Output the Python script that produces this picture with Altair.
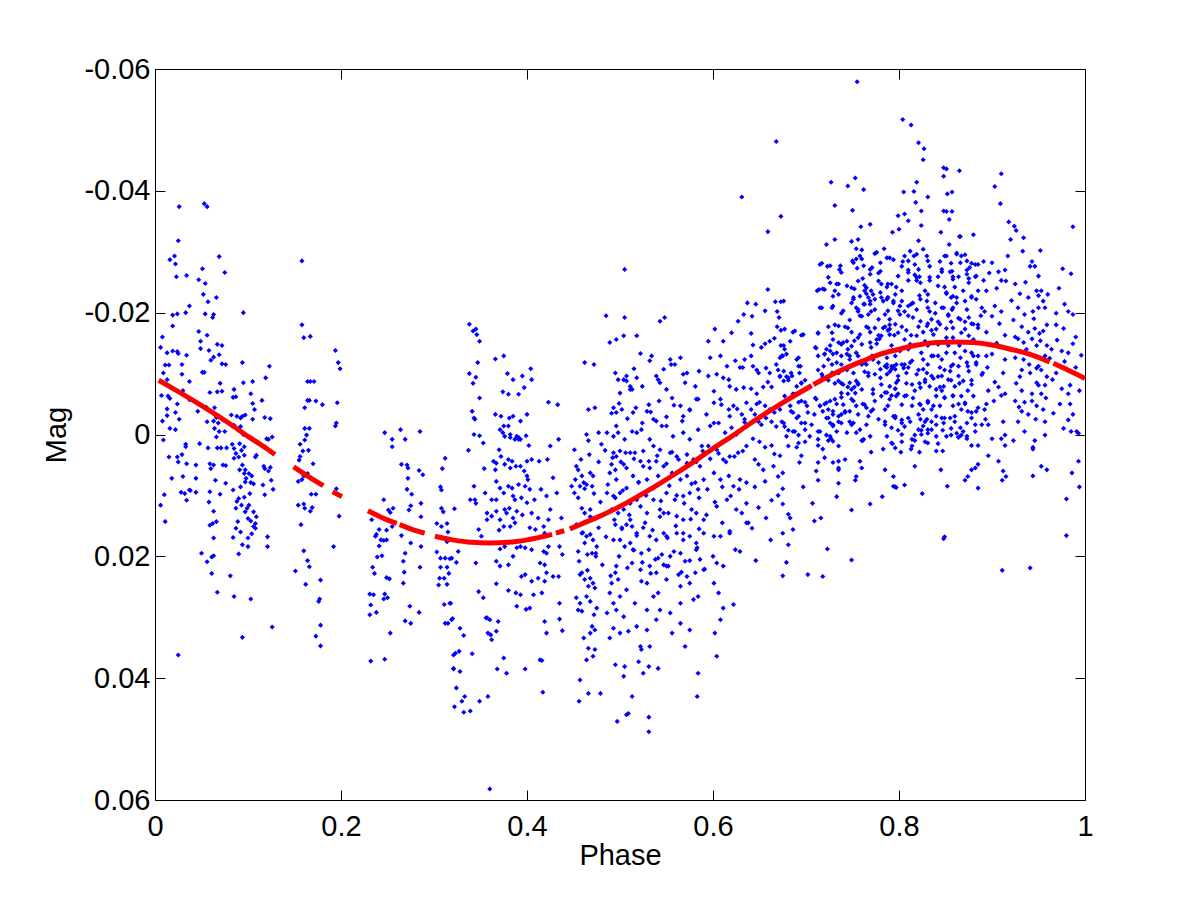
import altair as alt
import pandas as pd

# ---------------- scatter data (phase, mag), by region ----------------
grp_00_13 = [
(0.026,-0.0374),(0.053,-0.0379),(0.056,-0.0374),(0.025,-0.0318),(0.069,-0.0292),(0.016,-0.0287),(0.021,-0.0293),(0.022,-0.0280),
(0.075,-0.0266),(0.023,-0.0259),(0.034,-0.0261),(0.051,-0.0272),(0.047,-0.0254),(0.054,-0.0248),(0.052,-0.0230),(0.066,-0.0225),
(0.057,-0.0218),(0.037,-0.0211),(0.019,-0.0196),(0.024,-0.0198),(0.033,-0.0200),(0.054,-0.0198),(0.063,-0.0197),(0.062,-0.0192),
(0.095,-0.0200),(0.019,-0.0178),(0.008,-0.0160),(0.006,-0.0143),(0.047,-0.0169),(0.056,-0.0163),(0.049,-0.0153),(0.049,-0.0141),
(0.067,-0.0148),(0.072,-0.0146),(0.069,-0.0131),(0.063,-0.0127),(0.060,-0.0122),(0.058,-0.0138),(0.013,-0.0134),(0.019,-0.0137),
(0.024,-0.0136),(0.025,-0.0133),(0.034,-0.0130),(0.011,-0.0114),(0.015,-0.0114),(0.029,-0.0115),(0.009,-0.0101),(0.029,-0.0099),
(0.072,-0.0116),(0.076,-0.0115),(0.094,-0.0118),(0.123,-0.0112),(0.119,-0.0093),(0.051,-0.0102),(0.053,-0.0102),(0.013,-0.0090),
(0.037,-0.0087),(0.095,-0.0085),(0.105,-0.0087),(0.070,-0.0084),(0.067,-0.0070),(0.072,-0.0071),(0.085,-0.0074),(0.059,-0.0069),
(0.007,-0.0064),(0.014,-0.0063),(0.016,-0.0059),(0.024,-0.0050),(0.030,-0.0072),(0.103,-0.0067),(0.084,-0.0061),(0.087,-0.0062),
(0.105,-0.0051),(0.107,-0.0041),(0.115,-0.0056),(0.037,-0.0057),(0.046,-0.0038),(0.055,-0.0045),(0.064,-0.0044),(0.013,-0.0042),
(0.022,-0.0036),(0.008,-0.0022),(0.013,-0.0031),(0.026,-0.0025),(0.056,-0.0021),(0.063,-0.0022),(0.066,-0.0028),(0.068,-0.0019),
(0.082,-0.0032),(0.088,-0.0030),(0.092,-0.0027),(0.094,-0.0030),(0.097,-0.0032),(0.105,-0.0025),(0.118,-0.0028),(0.124,-0.0026),
(0.016,-0.0010),(0.022,-0.0008),(0.064,-0.0010),(0.066,0.0004),(0.069,-0.0005),(0.075,-0.0005),(0.092,-0.0013),(0.095,0.0000),
(0.091,0.0015),(0.085,-0.0015),(0.009,0.0009),(0.033,0.0016),(0.033,0.0020),(0.048,0.0015),(0.057,0.0022),(0.067,0.0022),
(0.071,0.0022),(0.077,0.0022),(0.083,0.0016),(0.085,0.0023),(0.087,0.0031),(0.085,0.0039),(0.090,0.0037),(0.093,0.0026),
(0.096,0.0020),(0.096,0.0034),(0.109,0.0034),(0.108,0.0037),(0.122,0.0008),(0.126,0.0004),(0.120,0.0007),(0.015,0.0037),
(0.024,0.0037),(0.025,0.0045),(0.029,0.0033),(0.034,0.0048),(0.044,0.0050),(0.059,0.0048),(0.063,0.0050),(0.060,0.0056),
(0.073,0.0050),(0.076,0.0051),(0.094,0.0050),(0.091,0.0058),(0.097,0.0058),(0.096,0.0064),(0.101,0.0064),(0.104,0.0068),
(0.098,0.0072),(0.117,0.0052),(0.118,0.0056),(0.122,0.0060),(0.124,0.0054),(0.018,0.0072),(0.030,0.0069),(0.044,0.0072),
(0.065,0.0075),(0.059,0.0094),(0.076,0.0080),(0.092,0.0086),(0.097,0.0078),(0.103,0.0079),(0.102,0.0097),(0.106,0.0081),
(0.116,0.0083),(0.118,0.0099),(0.125,0.0075),(0.127,0.0090),(0.028,0.0095),(0.032,0.0097),(0.037,0.0091),(0.038,0.0092),
(0.044,0.0095),(0.034,0.0108),(0.010,0.0099),(0.006,0.0116),(0.011,0.0143),(0.070,0.0098),(0.084,0.0091),(0.058,0.0111),
(0.090,0.0105),(0.088,0.0110),(0.096,0.0103),(0.087,0.0121),(0.093,0.0116),(0.099,0.0121),(0.097,0.0127),(0.101,0.0116),
(0.106,0.0127),(0.109,0.0135),(0.063,0.0126),(0.059,0.0149),(0.062,0.0146),(0.066,0.0143),(0.089,0.0143),(0.100,0.0138),
(0.103,0.0142),(0.108,0.0146),(0.108,0.0154),(0.106,0.0151),(0.087,0.0154),(0.092,0.0160),(0.084,0.0169),(0.100,0.0170),
(0.104,0.0163),(0.063,0.0170),(0.121,0.0168),(0.121,0.0184),(0.094,0.0181),(0.100,0.0184),(0.050,0.0195),(0.056,0.0209),
(0.061,0.0201),(0.063,0.0199),(0.090,0.0196),(0.061,0.0228),(0.081,0.0232),(0.067,0.0259),(0.085,0.0266),(0.103,0.0270),
(0.126,0.0316),(0.094,0.0333),(0.025,0.0362),
]

grp_15_20 = [
(0.158,-0.0285),(0.158,-0.0180),(0.160,-0.0159),(0.167,-0.0161),(0.194,-0.0138),(0.197,-0.0118),(0.199,-0.0108),(0.164,-0.0087),
(0.167,-0.0087),(0.171,-0.0087),(0.164,-0.0056),(0.166,-0.0056),(0.173,-0.0055),(0.180,-0.0049),(0.196,-0.0052),(0.161,-0.0044),
(0.195,-0.0019),(0.194,-0.0014),(0.161,-0.0010),(0.166,-0.0010),(0.163,0.0001),(0.161,0.0009),(0.156,0.0016),(0.156,0.0036),
(0.155,0.0042),(0.165,0.0026),(0.159,0.0027),(0.170,0.0048),(0.154,0.0077),(0.158,0.0074),(0.160,0.0068),(0.164,0.0064),
(0.168,0.0098),(0.173,0.0098),(0.195,0.0089),(0.154,0.0116),(0.160,0.0114),(0.161,0.0121),(0.167,0.0126),(0.169,0.0120),
(0.157,0.0148),(0.198,0.0134),(0.192,0.0184),(0.160,0.0191),(0.164,0.0207),(0.166,0.0217),(0.151,0.0224),(0.162,0.0246),
(0.178,0.0239),(0.177,0.0270),(0.176,0.0274),(0.178,0.0313),(0.173,0.0331),(0.178,0.0347),
]

grp_23_29 = [
(0.247,-0.0003),(0.264,-0.0008),(0.269,0.0008),(0.255,0.0008),(0.255,0.0020),(0.285,-0.0005),(0.265,0.0049),(0.271,0.0050),
(0.272,0.0055),(0.272,0.0072),(0.276,0.0098),(0.273,0.0124),(0.275,0.0117),(0.284,0.0059),(0.288,0.0066),(0.286,0.0113),
(0.286,0.0135),(0.286,0.0184),(0.285,0.0218),(0.271,0.0090),(0.246,0.0107),(0.251,0.0124),(0.256,0.0121),(0.253,0.0128),
(0.233,0.0140),(0.238,0.0164),(0.237,0.0167),(0.241,0.0156),(0.243,0.0173),(0.249,0.0157),(0.246,0.0174),(0.249,0.0173),
(0.255,0.0151),(0.265,0.0166),(0.275,0.0178),(0.269,0.0195),(0.267,0.0208),(0.241,0.0183),(0.239,0.0201),(0.244,0.0199),
(0.234,0.0218),(0.236,0.0228),(0.249,0.0235),(0.252,0.0237),(0.268,0.0226),(0.267,0.0244),(0.247,0.0262),(0.246,0.0270),
(0.250,0.0268),(0.231,0.0262),(0.235,0.0263),(0.232,0.0280),(0.238,0.0292),(0.231,0.0296),(0.274,0.0282),(0.284,0.0292),
(0.269,0.0306),(0.275,0.0310),(0.253,0.0326),(0.232,0.0372),(0.247,0.0369),
]

grp_30_32 = [
(0.312,0.0039),(0.309,0.0056),(0.307,0.0086),(0.308,0.0091),(0.308,0.0121),(0.310,0.0127),(0.303,0.0146),(0.308,0.0151),
(0.314,0.0146),(0.315,0.0160),(0.314,0.0176),(0.303,0.0193),(0.307,0.0203),(0.312,0.0203),(0.317,0.0204),(0.307,0.0218),
(0.314,0.0218),(0.306,0.0236),(0.311,0.0236),(0.316,0.0228),(0.305,0.0247),(0.314,0.0246),(0.311,0.0279),(0.317,0.0277),
(0.319,0.0304),(0.312,0.0310),(0.315,0.0310),(0.321,0.0362),(0.321,0.0385),
]

grp_32_45 = [
(0.322,0.0122),(0.319,0.0203),(0.324,0.0210),(0.318,0.0277),(0.320,0.0302),(0.328,0.0318),(0.332,0.0330),(0.323,0.0359),
(0.327,0.0356),(0.321,0.0384),(0.328,0.0389),(0.324,0.0416),(0.333,0.0430),(0.330,0.0438),(0.322,0.0447),(0.332,0.0456),
(0.339,0.0454),(0.326,0.0192),(0.338,-0.0181),(0.342,-0.0170),(0.345,-0.0173),(0.346,-0.0164),(0.349,-0.0153),(0.347,-0.0118),
(0.338,-0.0100),(0.342,-0.0084),(0.345,-0.0094),(0.349,-0.0060),(0.341,-0.0038),(0.343,-0.0027),(0.344,-0.0025),(0.343,0.0000),
(0.349,0.0002),(0.353,0.0014),(0.337,0.0026),(0.354,0.0056),(0.343,0.0085),(0.339,0.0107),(0.344,0.0107),(0.345,0.0113),
(0.355,0.0096),(0.348,0.0156),(0.357,0.0140),(0.351,0.0167),(0.345,0.0211),(0.348,0.0258),(0.353,0.0268),(0.356,0.0301),
(0.360,0.0304),(0.358,0.0326),(0.362,0.0337),(0.341,0.0360),(0.349,0.0438),(0.358,0.0430),(0.360,0.0582),
(0.366,-0.0124),(0.375,-0.0129),(0.379,-0.0100),(0.385,-0.0090),(0.374,-0.0070),(0.380,-0.0066),(0.391,-0.0066),
(0.366,-0.0033),(0.372,-0.0030),(0.375,-0.0014),(0.381,-0.0027),(0.385,-0.0030),(0.371,-0.0008),(0.380,-0.0014),(0.382,0.0000),
(0.374,-0.0003),(0.376,0.0003),(0.382,0.0005),(0.387,0.0008),(0.389,0.0003),(0.391,0.0008),(0.370,0.0025),(0.372,0.0036),
(0.364,0.0044),(0.367,0.0047),(0.366,0.0058),(0.376,0.0049),(0.380,0.0041),(0.384,0.0044),(0.382,0.0055),(0.388,0.0052),
(0.367,0.0077),(0.371,0.0088),(0.375,0.0096),(0.362,0.0107),(0.367,0.0107),(0.380,0.0085),(0.384,0.0088),(0.385,0.0101),
(0.387,0.0107),(0.357,0.0129),(0.362,0.0134),(0.367,0.0126),(0.371,0.0140),(0.376,0.0123),(0.378,0.0129),(0.381,0.0121),
(0.385,0.0137),(0.389,0.0126),(0.375,0.0151),(0.370,0.0157),(0.382,0.0151),(0.387,0.0145),(0.371,0.0188),(0.376,0.0184),
(0.385,0.0200),(0.389,0.0186),(0.367,0.0208),(0.371,0.0216),(0.380,0.0214),(0.367,0.0245),(0.380,0.0256),(0.388,0.0260),
(0.389,0.0282),(0.393,0.0263),(0.399,0.0287),(0.357,0.0301),(0.369,0.0307),(0.367,0.0323),(0.361,0.0329),(0.375,0.0367),
(0.368,0.0385),(0.378,0.0392),(0.398,0.0385),
(0.395,-0.0096),(0.404,-0.0108),(0.405,-0.0090),(0.397,-0.0077),(0.400,-0.0033),(0.393,-0.0022),(0.399,0.0002),(0.391,0.0005),
(0.393,0.0008),(0.402,0.0018),(0.400,0.0044),(0.405,0.0041),(0.393,0.0052),(0.397,0.0060),(0.400,0.0068),(0.401,0.0074),
(0.413,0.0044),(0.422,0.0041),(0.425,0.0019),(0.434,0.0008),(0.391,0.0082),(0.398,0.0085),(0.403,0.0090),(0.394,0.0104),
(0.400,0.0112),(0.408,0.0107),(0.415,0.0090),(0.421,0.0101),(0.425,0.0123),(0.395,0.0132),(0.405,0.0129),(0.412,0.0137),
(0.403,0.0153),(0.409,0.0156),(0.418,0.0151),(0.419,0.0162),(0.423,0.0140),(0.393,0.0184),(0.398,0.0186),(0.405,0.0189),
(0.418,0.0192),(0.421,0.0195),(0.423,0.0184),(0.414,0.0211),(0.419,0.0214),(0.421,0.0227),(0.419,0.0241),(0.412,0.0236),
(0.405,0.0241),(0.394,0.0233),(0.398,0.0230),(0.407,0.0263),(0.416,0.0260),(0.403,0.0285),(0.414,0.0370),(0.416,0.0371),
(0.417,0.0423),(0.419,0.0307),(0.421,0.0326),(0.423,-0.0053),(0.433,-0.0049),
(0.428,0.0071),(0.432,0.0096),(0.437,0.0137),(0.435,0.0184),(0.438,0.0197),(0.428,0.0233),(0.434,0.0233),(0.435,0.0277),
(0.438,0.0322),(0.435,0.0303),(0.448,0.0085),(0.451,0.0096),(0.452,0.0074),(0.453,0.0052),(0.451,0.0025),(0.462,-0.0118),
(0.472,-0.0115),(0.466,-0.0041),(0.473,-0.0044),
]

grp_45_64 = [
(0.455,0.0058),(0.459,0.0068),(0.461,0.0079),(0.457,0.0085),(0.464,0.0082),(0.468,0.0063),(0.471,0.0068),(0.470,0.0085),
(0.459,0.0121),(0.462,0.0129),(0.468,0.0123),(0.459,0.0162),(0.464,0.0167),(0.468,0.0164),(0.471,0.0173),(0.462,0.0178),
(0.455,0.0192),(0.465,0.0197),(0.470,0.0195),(0.475,0.0184),(0.474,0.0200),(0.459,0.0227),(0.457,0.0230),(0.462,0.0238),
(0.468,0.0236),(0.471,0.0244),(0.466,0.0249),(0.473,0.0252),(0.453,0.0268),(0.457,0.0277),(0.455,0.0288),(0.459,0.0290),
(0.464,0.0266),(0.468,0.0274),(0.475,0.0285),(0.472,0.0296),(0.470,0.0315),(0.473,0.0321),(0.468,0.0326),(0.461,0.0334),
(0.466,0.0351),(0.473,0.0353),(0.471,0.0364),(0.464,0.0370),(0.457,0.0403),(0.456,0.0438),(0.466,0.0425),(0.479,0.0425),
(0.477,-0.0003),(0.480,0.0016),(0.464,0.0000),(0.466,0.0010),
(0.489,-0.0151),(0.496,-0.0156),(0.504,-0.0162),(0.505,-0.0192),(0.495,-0.0101),(0.498,-0.0090),(0.504,-0.0090),(0.507,-0.0096),
(0.511,-0.0074),(0.500,-0.0068),(0.493,-0.0044),(0.496,-0.0036),(0.502,-0.0041),(0.486,-0.0003),(0.493,0.0003),(0.496,-0.0014),
(0.498,-0.0003),(0.505,0.0008),(0.493,0.0030),(0.496,0.0036),(0.500,0.0027),(0.491,0.0049),(0.495,0.0058),(0.504,0.0049),
(0.507,0.0055),(0.511,0.0030),(0.489,0.0063),(0.496,0.0074),(0.486,0.0096),(0.493,0.0101),(0.500,0.0096),(0.507,0.0088),
(0.491,0.0123),(0.498,0.0129),(0.504,0.0123),(0.495,0.0148),(0.502,0.0153),(0.507,0.0148),(0.511,0.0140),(0.493,0.0173),
(0.500,0.0173),(0.505,0.0184),(0.511,0.0178),(0.496,0.0216),(0.495,0.0227),(0.491,0.0244),(0.498,0.0238),(0.489,0.0260),
(0.500,0.0266),(0.507,0.0255),(0.493,0.0277),(0.486,0.0293),(0.496,0.0288),(0.504,0.0299),(0.493,0.0318),(0.489,0.0334),
(0.500,0.0326),(0.509,0.0323),(0.495,0.0378),(0.505,0.0381),(0.497,0.0471),(0.507,0.0460),(0.509,0.0458),(0.504,0.0397),
(0.505,-0.0271),(0.485,-0.0195),
(0.518,-0.0162),(0.522,-0.0133),(0.534,-0.0129),(0.532,-0.0121),(0.543,-0.0186),(0.548,-0.0192),(0.541,-0.0090),(0.543,-0.0085),
(0.518,-0.0093),(0.513,-0.0074),(0.511,-0.0079),(0.531,-0.0049),(0.529,-0.0038),(0.536,-0.0025),(0.539,-0.0022),(0.545,-0.0014),
(0.514,-0.0036),(0.513,-0.0005),(0.518,-0.0003),(0.523,-0.0008),(0.532,0.0008),(0.536,0.0019),(0.543,0.0025),(0.516,0.0030),
(0.522,0.0044),(0.525,0.0052),(0.532,0.0055),(0.539,0.0044),(0.547,0.0052),(0.514,0.0068),(0.520,0.0079),(0.529,0.0074),
(0.541,0.0068),(0.518,0.0107),(0.522,0.0118),(0.529,0.0129),(0.536,0.0107),(0.543,0.0123),(0.547,0.0129),(0.513,0.0151),
(0.518,0.0162),(0.525,0.0153),(0.532,0.0167),(0.539,0.0173),(0.547,0.0162),(0.514,0.0189),(0.523,0.0195),(0.531,0.0189),
(0.538,0.0205),(0.545,0.0197),(0.513,0.0211),(0.522,0.0222),(0.532,0.0216),(0.539,0.0227),(0.547,0.0214),(0.523,0.0241),
(0.529,0.0244),(0.536,0.0266),(0.541,0.0260),(0.516,0.0277),(0.529,0.0288),(0.543,0.0288),(0.518,0.0315),(0.529,0.0321),
(0.539,0.0304),(0.522,0.0348),(0.523,0.0353),(0.532,0.0348),(0.520,0.0373),(0.525,0.0392),(0.531,0.0381),(0.541,0.0384),
(0.513,0.0430),(0.531,0.0464),(0.531,0.0488),
(0.547,-0.0107),(0.554,-0.0123),(0.559,-0.0115),(0.565,-0.0126),(0.568,-0.0099),(0.572,-0.0101),(0.581,-0.0079),(0.550,-0.0074),
(0.556,-0.0060),(0.565,-0.0047),(0.568,-0.0030),(0.575,-0.0041),(0.582,-0.0058),(0.550,-0.0014),(0.557,0.0003),(0.568,-0.0003),
(0.575,0.0008),(0.584,-0.0008),(0.588,0.0019),(0.554,0.0030),(0.561,0.0036),(0.572,0.0047),(0.579,0.0041),(0.586,0.0052),
(0.556,0.0063),(0.565,0.0074),(0.572,0.0068),(0.581,0.0079),(0.590,0.0074),(0.550,0.0096),(0.559,0.0107),(0.568,0.0101),
(0.575,0.0096),(0.584,0.0090),(0.552,0.0129),(0.561,0.0134),(0.568,0.0140),(0.577,0.0123),(0.582,0.0129),(0.590,0.0140),
(0.550,0.0167),(0.561,0.0162),(0.568,0.0173),(0.575,0.0167),(0.582,0.0178),(0.590,0.0162),(0.554,0.0200),(0.565,0.0195),
(0.570,0.0208),(0.582,0.0189),(0.586,0.0205),(0.552,0.0216),(0.563,0.0230),(0.572,0.0233),(0.581,0.0227),(0.590,0.0222),
(0.550,0.0238),(0.565,0.0249),(0.575,0.0244),(0.584,0.0266),(0.565,0.0277),(0.579,0.0271),(0.554,0.0293),(0.565,0.0310),
(0.575,0.0321),(0.556,0.0326),(0.570,0.0348),(0.584,0.0392),(0.583,0.0430),
(0.595,-0.0153),(0.602,-0.0173),(0.611,-0.0153),(0.620,-0.0167),(0.627,-0.0186),(0.633,-0.0197),(0.637,-0.0216),(0.597,-0.0126),
(0.608,-0.0129),(0.615,-0.0112),(0.624,-0.0121),(0.629,-0.0110),(0.634,-0.0123),(0.595,-0.0096),(0.604,-0.0099),(0.611,-0.0093),
(0.618,-0.0079),(0.625,-0.0074),(0.633,-0.0077),(0.601,-0.0052),(0.608,-0.0058),(0.617,-0.0041),(0.622,-0.0047),(0.631,-0.0033),
(0.636,-0.0052),(0.597,-0.0014),(0.606,-0.0019),(0.613,-0.0003),(0.620,-0.0011),(0.625,0.0000),(0.634,-0.0025),(0.595,0.0019),
(0.604,0.0025),(0.611,0.0041),(0.618,0.0036),(0.627,0.0030),(0.636,0.0019),(0.601,0.0063),(0.608,0.0074),(0.617,0.0068),
(0.622,0.0085),(0.629,0.0074),(0.636,0.0079),(0.604,0.0118),(0.615,0.0107),(0.625,0.0123),(0.631,0.0129),(0.638,0.0145),
(0.608,0.0167),(0.618,0.0162),(0.624,0.0189),(0.629,0.0192),(0.604,0.0211),(0.611,0.0216),(0.601,0.0244),(0.606,0.0260),
(0.611,0.0285),(0.622,0.0279),(0.608,0.0304),(0.602,0.0326),(0.604,0.0364),
]

# second, denser reading of the crowded block around phase 0.45-0.64
grp_45_64_more = [
(0.458,0.0041),(0.467,0.0033),(0.477,0.0045),(0.484,0.0026),(0.492,0.0038),(0.501,0.0045),(0.506,0.0030),(0.515,0.0040),
(0.525,0.0027),(0.531,0.0044),(0.540,0.0035),(0.550,0.0048),(0.556,0.0029),(0.563,0.0041),(0.572,0.0033),(0.582,0.0045),
(0.589,0.0027),(0.597,0.0040),(0.606,0.0031),(0.614,0.0045),(0.623,0.0036),(0.632,0.0027),
(0.455,0.0104),(0.462,0.0089),(0.472,0.0097),(0.479,0.0111),(0.487,0.0082),(0.495,0.0104),(0.503,0.0092),(0.511,0.0113),
(0.520,0.0078),(0.528,0.0100),(0.536,0.0088),(0.544,0.0109),(0.553,0.0084),(0.561,0.0100),(0.569,0.0113),(0.577,0.0081),
(0.585,0.0104),(0.594,0.0090),(0.602,0.0111),(0.610,0.0086),(0.619,0.0101),(0.628,0.0090),(0.636,0.0113),
(0.453,0.0148),(0.460,0.0161),(0.468,0.0135),(0.477,0.0153),(0.485,0.0168),(0.494,0.0140),(0.502,0.0155),(0.510,0.0132),
(0.518,0.0166),(0.527,0.0145),(0.535,0.0157),(0.543,0.0135),(0.551,0.0170),(0.560,0.0150),(0.568,0.0162),(0.576,0.0139),
(0.585,0.0155),(0.593,0.0132),(0.601,0.0167),(0.610,0.0145),(0.618,0.0159),
(0.456,0.0208),(0.465,0.0223),(0.474,0.0195),(0.481,0.0214),(0.490,0.0232),(0.499,0.0200),(0.508,0.0219),(0.515,0.0190),
(0.524,0.0210),(0.533,0.0228),(0.541,0.0203),(0.550,0.0216),(0.558,0.0192),(0.566,0.0226),(0.575,0.0207),(0.583,0.0186),
(0.591,0.0221),(0.600,0.0200),
(0.491,-0.0035),(0.499,-0.0051),(0.508,-0.0026),(0.517,-0.0044),(0.524,-0.0019),(0.533,-0.0037),(0.542,-0.0055),(0.550,-0.0029),
(0.558,-0.0048),(0.567,-0.0022),(0.575,-0.0040),(0.584,-0.0058),(0.593,-0.0033),(0.601,-0.0019),(0.609,-0.0049),(0.618,-0.0030),
(0.626,-0.0042),(0.634,-0.0020),(0.507,-0.0088),(0.515,-0.0108),(0.524,-0.0079),(0.539,-0.0096),(0.555,-0.0115),(0.570,-0.0085),
(0.585,-0.0104),(0.601,-0.0071),(0.617,-0.0090),(0.632,-0.0110),
]

grp_64_80 = [
(0.631,-0.0390),(0.668,-0.0481),(0.659,-0.0333),(0.673,-0.0358),(0.659,-0.0238),(0.667,-0.0218),(0.673,-0.0218),(0.646,-0.0214),
(0.656,-0.0203),(0.669,-0.0202),(0.671,-0.0192),(0.642,-0.0194),(0.641,-0.0166),(0.669,-0.0177),(0.673,-0.0171),(0.666,-0.0158),
(0.643,-0.0147),(0.652,-0.0143),(0.656,-0.0149),(0.661,-0.0153),(0.673,-0.0146),(0.676,-0.0146),(0.675,-0.0129),(0.672,-0.0126),
(0.641,-0.0129),(0.643,-0.0112),(0.647,-0.0106),(0.649,-0.0101),(0.657,-0.0109),(0.661,-0.0101),(0.668,-0.0115),(0.670,-0.0106),
(0.672,-0.0095),(0.679,-0.0095),(0.681,-0.0089),(0.641,-0.0075),(0.647,-0.0067),(0.654,-0.0078),(0.659,-0.0086),(0.663,-0.0078),
(0.641,-0.0041),(0.647,-0.0050),(0.650,-0.0053),(0.656,-0.0047),(0.661,-0.0041),(0.666,-0.0036),(0.672,-0.0041),(0.645,-0.0033),
(0.649,-0.0021),(0.652,-0.0016),(0.657,-0.0027),(0.663,-0.0021),(0.668,-0.0013),(0.674,-0.0021),(0.677,-0.0013),(0.681,-0.0007),
(0.643,0.0007),(0.650,0.0012),(0.656,0.0021),(0.663,0.0018),(0.666,0.0032),(0.672,0.0035),(0.645,0.0041),(0.649,0.0049),
(0.654,0.0058),(0.665,0.0052),(0.670,0.0069),(0.675,0.0063),(0.645,0.0086),(0.656,0.0077),(0.663,0.0108),(0.670,0.0100),
(0.675,0.0089),(0.649,0.0120),(0.657,0.0137),(0.675,0.0114),(0.681,0.0131),(0.683,0.0137),(0.662,0.0173),(0.675,0.0162),
(0.681,0.0181),(0.686,0.0156),(0.646,0.0207),(0.679,0.0210),(0.675,0.0232),(0.702,0.0230),(0.718,0.0233),(0.642,0.0154),
(0.636,0.0145),
(0.695,-0.0163),(0.686,-0.0168),(0.715,-0.0279),(0.723,-0.0276),(0.722,-0.0312),(0.731,-0.0320),(0.727,-0.0414),(0.731,-0.0376),
(0.712,-0.0236),(0.718,-0.0239),(0.715,-0.0208),(0.728,-0.0208),(0.731,-0.0236),(0.733,-0.0247),(0.713,-0.0166),(0.724,-0.0177),
(0.731,-0.0180),(0.726,-0.0146),(0.735,-0.0151),(0.710,-0.0143),(0.720,-0.0132),(0.724,-0.0123),(0.729,-0.0132),(0.733,-0.0118),
(0.690,-0.0123),(0.692,-0.0112),(0.684,-0.0101),(0.693,-0.0101),(0.695,-0.0084),(0.699,-0.0089),(0.713,-0.0106),(0.718,-0.0095),
(0.724,-0.0089),(0.731,-0.0084),(0.735,-0.0101),(0.686,-0.0067),(0.692,-0.0053),(0.699,-0.0053),(0.711,-0.0058),(0.715,-0.0047),
(0.720,-0.0050),(0.726,-0.0055),(0.733,-0.0050),(0.684,-0.0038),(0.690,-0.0027),(0.699,-0.0019),(0.709,-0.0033),(0.718,-0.0038),
(0.724,-0.0027),(0.729,-0.0033),(0.735,-0.0021),(0.686,-0.0005),(0.692,0.0001),(0.699,0.0012),(0.713,-0.0005),(0.722,0.0001),
(0.729,-0.0016),(0.733,-0.0005),(0.690,0.0021),(0.695,0.0035),(0.713,0.0018),(0.718,0.0024),(0.724,0.0010),(0.727,0.0007),
(0.693,0.0046),(0.713,0.0046),(0.720,0.0038),(0.729,0.0046),(0.735,0.0044),(0.711,0.0060),(0.713,0.0075),(0.735,0.0058),
(0.735,0.0080),(0.733,0.0102),(0.697,0.0086),(0.707,0.0113),(0.709,0.0142),(0.716,0.0137),(0.723,0.0188),
(0.755,-0.0579),(0.745,-0.0408),(0.753,-0.0421),(0.762,-0.0402),(0.750,-0.0368),(0.759,-0.0341),(0.769,-0.0345),(0.749,-0.0317),
(0.756,-0.0320),(0.754,-0.0305),(0.760,-0.0303),(0.751,-0.0282),(0.760,-0.0288),(0.736,-0.0271),(0.755,-0.0273),(0.761,-0.0256),
(0.769,-0.0271),(0.774,-0.0297),(0.784,-0.0305),(0.752,-0.0239),(0.751,-0.0225),(0.763,-0.0245),(0.765,-0.0231),(0.770,-0.0236),
(0.778,-0.0265),(0.781,-0.0247),(0.787,-0.0242),(0.754,-0.0208),(0.756,-0.0202),(0.763,-0.0214),(0.769,-0.0219),(0.774,-0.0222),
(0.781,-0.0225),(0.787,-0.0222),(0.738,-0.0199),(0.747,-0.0188),(0.760,-0.0194),(0.770,-0.0202),(0.785,-0.0197),(0.742,-0.0177),
(0.749,-0.0168),(0.765,-0.0177),(0.769,-0.0168),(0.778,-0.0163),(0.785,-0.0177),(0.788,-0.0171),(0.740,-0.0151),(0.752,-0.0154),
(0.770,-0.0143),(0.776,-0.0149),(0.779,-0.0157),(0.745,-0.0140),(0.747,-0.0129),(0.756,-0.0129),(0.763,-0.0118),(0.772,-0.0123),
(0.744,-0.0106),(0.751,-0.0101),(0.763,-0.0103),(0.767,-0.0101),(0.785,-0.0112),(0.790,-0.0103),(0.738,-0.0084),(0.745,-0.0078),
(0.752,-0.0078),(0.756,-0.0084),(0.772,-0.0067),(0.785,-0.0069),(0.792,-0.0064),(0.796,-0.0075),(0.738,-0.0061),(0.745,-0.0067),
(0.751,-0.0055),(0.761,-0.0050),(0.738,-0.0033),(0.742,-0.0038),(0.747,-0.0021),(0.751,-0.0019),(0.760,0.0010),(0.761,0.0010),
(0.770,-0.0038),(0.785,-0.0041),(0.785,-0.0021),(0.796,-0.0027),(0.742,0.0041),(0.735,0.0055),(0.758,0.0044),(0.760,0.0055),
(0.754,0.0069),(0.753,0.0075),(0.770,0.0029),(0.783,0.0024),(0.769,0.0114),(0.749,0.0124),(0.782,0.0102),(0.785,0.0058),
(0.794,0.0069),(0.796,0.0086),(0.749,0.0206),
]

# denser reading of the crowded block around phase 0.67-0.89, mag -0.030..0.002
grp_67_89 = [
(0.758,-0.0293),(0.776,-0.0299),(0.762,-0.0277),(0.771,-0.0274),(0.780,-0.0282),(0.790,-0.0290),(0.806,-0.0293),(0.810,-0.0285),
(0.817,-0.0279),(0.819,-0.0296),(0.831,-0.0285),(0.830,-0.0293),(0.851,-0.0293),(0.862,-0.0296),(0.867,-0.0293),(0.866,-0.0282),
(0.873,-0.0285),(0.846,-0.0271),(0.885,-0.0279),(0.876,-0.0274),(0.717,-0.0281),(0.726,-0.0277),(0.737,-0.0277),(0.750,-0.0285),
(0.754,-0.0288),
(0.724,-0.0258),(0.738,-0.0266),(0.749,-0.0241),(0.756,-0.0252),(0.769,-0.0263),(0.780,-0.0268),(0.788,-0.0247),(0.799,-0.0260),
(0.810,-0.0266),(0.821,-0.0271),(0.819,-0.0258),(0.823,-0.0249),(0.833,-0.0258),(0.842,-0.0244),(0.857,-0.0268),(0.858,-0.0255),
(0.873,-0.0263),(0.875,-0.0249),(0.883,-0.0260),(0.714,-0.0238),(0.726,-0.0249),(0.735,-0.0247),(0.744,-0.0244),(0.765,-0.0241),
(0.778,-0.0252),
(0.720,-0.0238),(0.729,-0.0227),(0.735,-0.0230),(0.751,-0.0222),(0.758,-0.0227),(0.763,-0.0236),(0.767,-0.0225),(0.772,-0.0230),
(0.780,-0.0233),(0.788,-0.0225),(0.796,-0.0230),(0.794,-0.0216),(0.803,-0.0219),(0.815,-0.0216),(0.823,-0.0222),(0.831,-0.0230),
(0.839,-0.0216),(0.851,-0.0233),(0.858,-0.0227),(0.862,-0.0216),(0.869,-0.0236),(0.878,-0.0227),(0.883,-0.0222),(0.676,-0.0219),
(0.717,-0.0208),(0.729,-0.0211),(0.740,-0.0203),(0.749,-0.0216),(0.756,-0.0205),(0.762,-0.0214),(0.769,-0.0214),(0.774,-0.0205),
(0.783,-0.0219),(0.788,-0.0203),(0.799,-0.0203),(0.810,-0.0211),(0.819,-0.0205),(0.831,-0.0208),(0.848,-0.0208),(0.857,-0.0205),
(0.873,-0.0205),
(0.758,-0.0195),(0.767,-0.0197),(0.778,-0.0189),(0.790,-0.0189),(0.796,-0.0181),(0.790,-0.0173),(0.783,-0.0175),(0.801,-0.0197),
(0.810,-0.0195),(0.823,-0.0186),(0.835,-0.0189),(0.844,-0.0181),(0.853,-0.0195),(0.866,-0.0189),(0.875,-0.0192),(0.880,-0.0181),
(0.871,-0.0173),(0.677,-0.0173),(0.688,-0.0170),(0.697,-0.0164),(0.728,-0.0167),(0.735,-0.0178),(0.745,-0.0175),(0.758,-0.0164),
(0.767,-0.0175),(0.774,-0.0175),(0.815,-0.0192),(0.830,-0.0178),(0.840,-0.0173),(0.858,-0.0175),(0.885,-0.0175),
(0.713,-0.0167),(0.729,-0.0156),(0.744,-0.0153),(0.749,-0.0145),(0.760,-0.0148),(0.769,-0.0151),(0.776,-0.0156),(0.781,-0.0162),
(0.790,-0.0164),(0.799,-0.0167),(0.806,-0.0156),(0.812,-0.0148),(0.819,-0.0162),(0.828,-0.0153),(0.837,-0.0164),(0.842,-0.0148),
(0.851,-0.0159),(0.858,-0.0159),(0.867,-0.0167),(0.875,-0.0162),(0.880,-0.0156),(0.683,-0.0153),(0.677,-0.0140),(0.711,-0.0142),
(0.722,-0.0140),(0.738,-0.0148),(0.756,-0.0159),
(0.674,-0.0129),(0.679,-0.0132),(0.692,-0.0126),(0.713,-0.0129),(0.720,-0.0132),(0.726,-0.0137),(0.733,-0.0134),(0.738,-0.0129),
(0.744,-0.0132),(0.754,-0.0134),(0.771,-0.0129),(0.778,-0.0118),(0.787,-0.0126),(0.792,-0.0112),(0.797,-0.0115),(0.806,-0.0115),
(0.814,-0.0121),(0.826,-0.0123),(0.835,-0.0129),(0.842,-0.0129),(0.851,-0.0134),(0.858,-0.0115),(0.866,-0.0126),(0.873,-0.0118),
(0.880,-0.0129),(0.694,-0.0112),(0.719,-0.0112),(0.728,-0.0115),(0.738,-0.0115),(0.747,-0.0123),(0.760,-0.0115),(0.765,-0.0115),
(0.780,-0.0107),(0.787,-0.0110),(0.796,-0.0107),(0.803,-0.0115),(0.810,-0.0110),(0.826,-0.0107),(0.831,-0.0115),(0.844,-0.0110),
(0.855,-0.0104),(0.883,-0.0115),
(0.676,-0.0104),(0.672,-0.0096),(0.681,-0.0093),(0.685,-0.0096),(0.676,-0.0088),(0.690,-0.0079),(0.695,-0.0085),(0.704,-0.0079),
(0.717,-0.0099),(0.728,-0.0101),(0.735,-0.0088),(0.740,-0.0082),(0.747,-0.0085),(0.754,-0.0088),(0.756,-0.0082),(0.767,-0.0096),
(0.774,-0.0099),(0.780,-0.0093),(0.787,-0.0099),(0.792,-0.0107),(0.799,-0.0096),(0.808,-0.0101),(0.819,-0.0099),(0.828,-0.0090),
(0.835,-0.0096),(0.846,-0.0096),(0.853,-0.0090),(0.864,-0.0096),(0.869,-0.0088),(0.875,-0.0104),(0.738,-0.0068),(0.749,-0.0074),
(0.760,-0.0074),(0.772,-0.0074),(0.781,-0.0082),(0.790,-0.0079),(0.797,-0.0085),(0.814,-0.0082),(0.823,-0.0077),(0.833,-0.0079),
(0.840,-0.0074),(0.848,-0.0079),(0.860,-0.0079),(0.878,-0.0082),
(0.677,-0.0063),(0.688,-0.0066),(0.695,-0.0055),(0.710,-0.0060),(0.715,-0.0047),(0.722,-0.0052),(0.731,-0.0058),(0.740,-0.0049),
(0.749,-0.0058),(0.753,-0.0068),(0.763,-0.0049),(0.774,-0.0055),(0.781,-0.0063),(0.790,-0.0058),(0.797,-0.0063),(0.806,-0.0063),
(0.815,-0.0060),(0.823,-0.0049),(0.831,-0.0052),(0.840,-0.0063),(0.849,-0.0060),(0.858,-0.0063),(0.867,-0.0063),(0.880,-0.0063),
(0.683,-0.0047),(0.701,-0.0047),(0.724,-0.0041),(0.729,-0.0038),(0.742,-0.0036),(0.754,-0.0047),(0.765,-0.0044),(0.772,-0.0041),
(0.788,-0.0047),(0.803,-0.0049),(0.814,-0.0047),(0.826,-0.0041),(0.835,-0.0041),(0.844,-0.0047),(0.858,-0.0047),(0.867,-0.0041),
(0.871,-0.0052),
(0.686,-0.0036),(0.692,-0.0030),(0.702,-0.0036),(0.722,-0.0027),(0.726,-0.0019),(0.735,-0.0030),(0.747,-0.0038),(0.756,-0.0033),
(0.767,-0.0030),(0.778,-0.0025),(0.794,-0.0030),(0.803,-0.0019),(0.810,-0.0027),(0.823,-0.0025),(0.830,-0.0025),(0.840,-0.0030),
(0.849,-0.0027),(0.860,-0.0030),(0.873,-0.0019),(0.676,-0.0019),(0.695,-0.0019),(0.706,-0.0016),(0.715,-0.0005),(0.729,-0.0014),
(0.738,-0.0019),(0.749,-0.0016),(0.758,-0.0008),(0.765,-0.0016),(0.785,-0.0016),(0.792,-0.0011),(0.821,-0.0008),(0.826,-0.0014),
(0.835,-0.0008),(0.848,-0.0019),(0.866,-0.0011),(0.882,-0.0016),
(0.679,0.0003),(0.688,-0.0005),(0.699,-0.0008),(0.681,0.0019),(0.692,0.0014),(0.704,0.0003),(0.713,0.0008),(0.726,0.0003),
(0.729,0.0011),(0.735,0.0019),(0.744,-0.0003),(0.754,-0.0003),(0.762,0.0008),(0.769,0.0003),(0.787,0.0003),(0.792,0.0014),
(0.803,0.0000),(0.814,0.0008),(0.824,0.0000),(0.831,-0.0008),(0.840,0.0003),(0.851,0.0003),(0.864,0.0005),(0.869,-0.0005),
(0.873,0.0003),(0.831,0.0014),(0.814,0.0019),(0.796,0.0022),
]

grp_80_100 = [
(0.804,-0.0517),(0.813,-0.0508),(0.821,-0.0479),(0.827,-0.0469),(0.826,-0.0451),(0.848,-0.0438),(0.851,-0.0436),(0.865,-0.0433),
(0.848,-0.0424),(0.857,-0.0398),(0.852,-0.0395),(0.819,-0.0414),(0.805,-0.0398),(0.816,-0.0399),(0.831,-0.0390),(0.818,-0.0381),
(0.824,-0.0367),(0.848,-0.0367),(0.851,-0.0366),(0.857,-0.0366),(0.854,-0.0353),(0.799,-0.0359),(0.806,-0.0362),(0.810,-0.0351),
(0.800,-0.0337),(0.793,-0.0332),(0.824,-0.0343),(0.845,-0.0332),(0.821,-0.0318),(0.826,-0.0304),(0.854,-0.0312),(0.866,-0.0325),
(0.862,-0.0298),(0.812,-0.0301),(0.816,-0.0293),(0.804,-0.0284),(0.794,-0.0287),(0.787,-0.0290),(0.803,-0.0276),(0.810,-0.0270),
(0.817,-0.0262),(0.822,-0.0259),(0.833,-0.0276),(0.844,-0.0284),(0.849,-0.0293),(0.856,-0.0281),(0.792,-0.0247),(0.797,-0.0242),
(0.803,-0.0236),(0.810,-0.0253),(0.819,-0.0253),(0.828,-0.0236),(0.833,-0.0253),(0.842,-0.0259),(0.846,-0.0267),(0.855,-0.0267),
(0.858,-0.0259),(0.849,-0.0242),(0.860,-0.0242),(0.851,-0.0231),(0.856,-0.0225),(0.788,-0.0225),(0.794,-0.0219),(0.801,-0.0211),
(0.806,-0.0202),(0.813,-0.0214),(0.822,-0.0228),(0.830,-0.0219),(0.833,-0.0202),(0.839,-0.0199),(0.846,-0.0208),(0.853,-0.0197),
(0.858,-0.0208),(0.790,-0.0180),(0.795,-0.0163),(0.803,-0.0177),(0.808,-0.0171),(0.813,-0.0163),(0.821,-0.0177),(0.826,-0.0168),
(0.831,-0.0182),(0.835,-0.0171),(0.842,-0.0185),(0.851,-0.0174),(0.856,-0.0185),(0.792,-0.0146),(0.796,-0.0129),(0.801,-0.0137),
(0.810,-0.0140),(0.824,-0.0134),(0.831,-0.0146),(0.837,-0.0129),(0.846,-0.0123),(0.853,-0.0146),(0.860,-0.0134),(0.787,-0.0115),
(0.794,-0.0112),(0.805,-0.0109),(0.812,-0.0118),(0.821,-0.0106),(0.830,-0.0101),(0.842,-0.0095),(0.849,-0.0106),(0.856,-0.0112),
(0.799,-0.0089),(0.808,-0.0084),(0.822,-0.0084),(0.828,-0.0086),(0.837,-0.0092),(0.844,-0.0078),(0.856,-0.0089),(0.787,-0.0069),
(0.796,-0.0075),(0.799,-0.0067),(0.808,-0.0064),(0.817,-0.0072),(0.822,-0.0050),(0.831,-0.0055),(0.837,-0.0047),(0.846,-0.0072),
(0.849,-0.0061),(0.858,-0.0064),(0.796,-0.0030),(0.803,-0.0024),(0.812,-0.0021),(0.821,-0.0033),(0.828,-0.0021),(0.835,-0.0021),
(0.846,-0.0027),(0.855,-0.0027),(0.860,-0.0021),(0.799,-0.0007),(0.806,-0.0013),(0.817,0.0001),(0.824,-0.0007),(0.831,-0.0002),
(0.840,-0.0016),(0.847,-0.0007),(0.856,-0.0010),(0.793,0.0015),(0.803,0.0012),(0.817,0.0010),(0.828,0.0012),(0.842,0.0015),
(0.856,0.0001),(0.802,0.0029),(0.813,0.0024),(0.817,0.0052),(0.822,0.0029),(0.840,0.0027),(0.847,0.0027),(0.845,0.0058),
(0.794,0.0085),(0.797,0.0087),(0.806,0.0083),(0.825,0.0097),(0.852,0.0085),(0.848,0.0171),(0.849,0.0168),(0.862,-0.0002),
(0.864,0.0004),(0.867,0.0001),
(0.880,-0.0328),(0.865,-0.0325),(0.871,-0.0295),(0.878,-0.0281),(0.882,-0.0279),(0.891,-0.0284),(0.900,-0.0282),(0.891,-0.0253),
(0.864,-0.0259),(0.873,-0.0270),(0.875,-0.0256),(0.882,-0.0259),(0.885,-0.0236),(0.894,-0.0236),(0.862,-0.0225),(0.871,-0.0219),
(0.878,-0.0225),(0.889,-0.0208),(0.892,-0.0202),(0.903,-0.0211),(0.910,-0.0202),(0.903,-0.0407),(0.910,-0.0428),(0.909,-0.0379),
(0.918,-0.0349),(0.924,-0.0342),(0.926,-0.0335),(0.920,-0.0320),(0.917,-0.0293),(0.907,-0.0267),(0.914,-0.0270),(0.915,-0.0252),
(0.910,-0.0253),(0.864,-0.0191),(0.871,-0.0185),(0.878,-0.0182),(0.885,-0.0180),(0.894,-0.0168),(0.900,-0.0194),(0.908,-0.0182),
(0.914,-0.0163),(0.865,-0.0146),(0.871,-0.0137),(0.878,-0.0134),(0.885,-0.0129),(0.894,-0.0129),(0.900,-0.0132),(0.864,-0.0112),
(0.874,-0.0112),(0.883,-0.0118),(0.890,-0.0101),(0.903,-0.0086),(0.912,-0.0101),(0.914,-0.0123),(0.865,-0.0084),(0.874,-0.0072),
(0.878,-0.0089),(0.889,-0.0098),(0.896,-0.0072),(0.907,-0.0078),(0.864,-0.0050),(0.871,-0.0050),(0.878,-0.0036),(0.885,-0.0044),
(0.894,-0.0050),(0.910,-0.0064),(0.914,-0.0067),(0.874,-0.0038),(0.878,-0.0027),(0.883,-0.0038),(0.892,-0.0041),(0.896,-0.0016),
(0.882,-0.0005),(0.889,-0.0016),(0.912,-0.0021),(0.914,0.0001),(0.873,0.0007),(0.878,0.0018),(0.885,0.0018),(0.900,0.0007),
(0.910,0.0007),(0.914,0.0018),(0.896,0.0035),(0.885,0.0049),(0.882,0.0055),(0.878,0.0058),(0.907,0.0044),(0.874,0.0069),
(0.871,0.0075),(0.885,0.0088),(0.912,0.0060),(0.915,0.0069),(0.911,0.0075),(0.911,0.0223),
(0.987,-0.0341),(0.934,-0.0323),(0.933,-0.0301),(0.943,-0.0284),(0.952,-0.0302),(0.946,-0.0276),(0.950,-0.0260),(0.941,-0.0276),
(0.976,-0.0272),(0.985,-0.0264),(0.925,-0.0247),(0.930,-0.0231),(0.939,-0.0225),(0.948,-0.0236),(0.953,-0.0236),(0.955,-0.0219),
(0.950,-0.0228),(0.928,-0.0208),(0.935,-0.0197),(0.944,-0.0202),(0.950,-0.0208),(0.957,-0.0208),(0.969,-0.0199),(0.978,-0.0214),
(0.982,-0.0202),(0.987,-0.0197),(0.923,-0.0188),(0.932,-0.0177),(0.939,-0.0168),(0.946,-0.0174),(0.951,-0.0166),(0.959,-0.0180),
(0.969,-0.0180),(0.977,-0.0174),(0.928,-0.0157),(0.934,-0.0151),(0.943,-0.0157),(0.948,-0.0146),(0.952,-0.0154),(0.959,-0.0146),
(0.964,-0.0140),(0.925,-0.0126),(0.934,-0.0123),(0.941,-0.0132),(0.950,-0.0112),(0.957,-0.0129),(0.975,-0.0137),(0.982,-0.0134),
(0.987,-0.0149),(0.932,-0.0106),(0.941,-0.0101),(0.948,-0.0109),(0.953,-0.0106),(0.959,-0.0095),(0.926,-0.0084),(0.932,-0.0072),
(0.943,-0.0067),(0.950,-0.0081),(0.957,-0.0081),(0.969,-0.0101),(0.925,-0.0055),(0.935,-0.0053),(0.943,-0.0055),(0.953,-0.0067),
(0.982,-0.0067),(0.984,-0.0081),(0.994,-0.0072),(0.932,-0.0038),(0.939,-0.0033),(0.948,-0.0047),(0.955,-0.0041),(0.973,-0.0050),
(0.984,-0.0050),(0.987,-0.0033),(0.928,-0.0021),(0.957,-0.0021),(0.982,-0.0024),(0.985,-0.0005),(0.935,-0.0005),(0.946,0.0010),
(0.957,0.0001),(0.991,-0.0005),(0.993,-0.0002),(0.944,0.0021),(0.944,0.0024),(0.953,0.0052),(0.959,0.0058),(0.993,0.0044),
(0.986,0.0063),(0.944,0.0068),(0.994,0.0086),(0.980,0.0106),(0.980,0.0166),(0.941,0.0219),
]

grp_89_100_more = [
(0.925,-0.0160),(0.937,-0.0140),(0.945,-0.0190),(0.955,-0.0170),(0.962,-0.0125),(0.970,-0.0155),(0.978,-0.0120),(0.990,-0.0160),
(0.930,-0.0095),(0.940,-0.0115),(0.948,-0.0085),(0.958,-0.0060),(0.965,-0.0090),(0.975,-0.0075),(0.990,-0.0110),(0.996,-0.0130),
(0.921,-0.0220),(0.936,-0.0250),(0.960,-0.0230),(0.972,-0.0240),(0.929,-0.0045),(0.947,-0.0025),(0.966,-0.0035),(0.977,-0.0010),
(0.923,0.0010),(0.905,-0.0150),(0.895,-0.0110),(0.902,-0.0055),(0.893,-0.0025),(0.905,-0.0240),(0.897,-0.0265),(0.888,-0.0195),
]

# ---------------- fitted curve (red), in its drawn segments ----------------
fit_segments = [
    [(0.004,-0.0089),(0.02,-0.0075),(0.04,-0.0057),(0.06,-0.0038),(0.08,-0.0018),(0.10,0.0003),(0.12,0.0023),(0.129,0.0033)],
    [(0.149,0.0053),(0.165,0.0069),(0.181,0.0084)],
    [(0.191,0.0094),(0.201,0.0102)],
    [(0.229,0.0125),(0.245,0.0137),(0.260,0.0146)],
    [(0.263,0.0148),(0.277,0.0156),(0.290,0.0162)],
    [(0.301,0.0167),(0.32,0.0173),(0.34,0.0177),(0.36,0.0178),(0.38,0.0177),(0.40,0.0173),(0.427,0.0164)],
    [(0.431,0.0162),(0.440,0.0158)],
    [(0.446,0.0155),(0.46,0.0146),(0.48,0.0133),(0.50,0.0118),(0.52,0.0101),(0.54,0.0083),(0.56,0.0064),(0.58,0.0044),
     (0.60,0.0023),(0.62,0.0003),(0.64,-0.0018),(0.66,-0.0038),(0.68,-0.0057),(0.706,-0.0080)],
    [(0.708,-0.0082),(0.72,-0.0092),(0.74,-0.0107),(0.76,-0.0120),(0.78,-0.0132),(0.80,-0.0140),(0.82,-0.0147),(0.84,-0.0151),
     (0.86,-0.0152),(0.88,-0.0151),(0.90,-0.0147),(0.92,-0.0140),(0.94,-0.0132),(0.962,-0.0119)],
    [(0.966,-0.0117),(0.98,-0.0107),(1.0,-0.0092)],
]

x_ticks = [0, 0.2, 0.4, 0.6, 0.8, 1]
y_ticks = [-0.06, -0.04, -0.02, 0, 0.02, 0.04, 0.06]

pts = (grp_00_13 + grp_15_20 + grp_23_29 + grp_30_32 + grp_32_45 + grp_45_64 + grp_45_64_more
       + grp_64_80 + grp_67_89 + grp_80_100 + grp_89_100_more)
df_pts = pd.DataFrame(pts, columns=["phase", "mag"])

rows = []
for i, seg in enumerate(fit_segments):
    for p, m in seg:
        rows.append({"seg": i, "phase": p, "mag": m})
df_fit = pd.DataFrame(rows)

FONT = "Liberation Sans"
xscale = alt.Scale(domain=[0, 1], nice=False, zero=False)
yscale = alt.Scale(domain=[-0.06, 0.06], reverse=True, nice=False, zero=False)

x_label = "datum.value == 0 ? '0' : (datum.value == 1 ? '1' : format(datum.value, '.1f'))"
y_label = "datum.value == 0 ? '0' : (datum.value < 0 ? '-' : '') + format(abs(datum.value), '.2f')"

scatter = alt.Chart(df_pts).mark_point(
    shape="diamond", filled=True, size=26, color="#0000FF", opacity=1
).encode(
    x=alt.X("phase:Q", scale=xscale,
            axis=alt.Axis(orient="bottom", values=x_ticks, title="Phase", offset=-10, tickSize=10,
                          domain=False, grid=False, labelPadding=12, labelExpr=x_label, labelFlush=False,
                          labelFontSize=29, titleFontSize=29, titlePadding=0,
                          labelFont=FONT, titleFont=FONT, labelColor="black", titleColor="black",
                          tickColor="black", titleFontWeight="normal")),
    y=alt.Y("mag:Q", scale=yscale,
            axis=alt.Axis(orient="left", values=y_ticks, title="Mag", offset=-10, tickSize=10,
                          domain=False, grid=False, labelPadding=5, labelExpr=y_label, labelFlush=False,
                          labelFontSize=29, titleFontSize=29, titlePadding=12,
                          labelFont=FONT, titleFont=FONT, labelColor="black", titleColor="black",
                          tickColor="black", titleFontWeight="normal")),
)

fit = alt.Chart(df_fit).mark_line(
    color="#FF0000", strokeWidth=5, interpolate="monotone", strokeCap="butt"
).encode(
    x=alt.X("phase:Q", scale=xscale,
            axis=alt.Axis(orient="top", values=x_ticks, title=None, offset=-10, tickSize=10,
                          domain=False, grid=False, labels=False, tickColor="black")),
    y=alt.Y("mag:Q", scale=yscale,
            axis=alt.Axis(orient="right", values=y_ticks, title=None, offset=-10, tickSize=10,
                          domain=False, grid=False, labels=False, tickColor="black")),
    detail="seg:N",
)

chart = alt.layer(scatter, fit).resolve_axis(
    x="independent", y="independent"
).properties(
    width=930, height=731,
    autosize=alt.AutoSizeParams(type="none"),
    padding={"left": 147, "top": 61, "right": 60, "bottom": 100},
    background="white",
).configure_view(
    stroke="black", strokeWidth=1
)

chart.save("out.html", embed_options={"renderer": "svg", "actions": False})
